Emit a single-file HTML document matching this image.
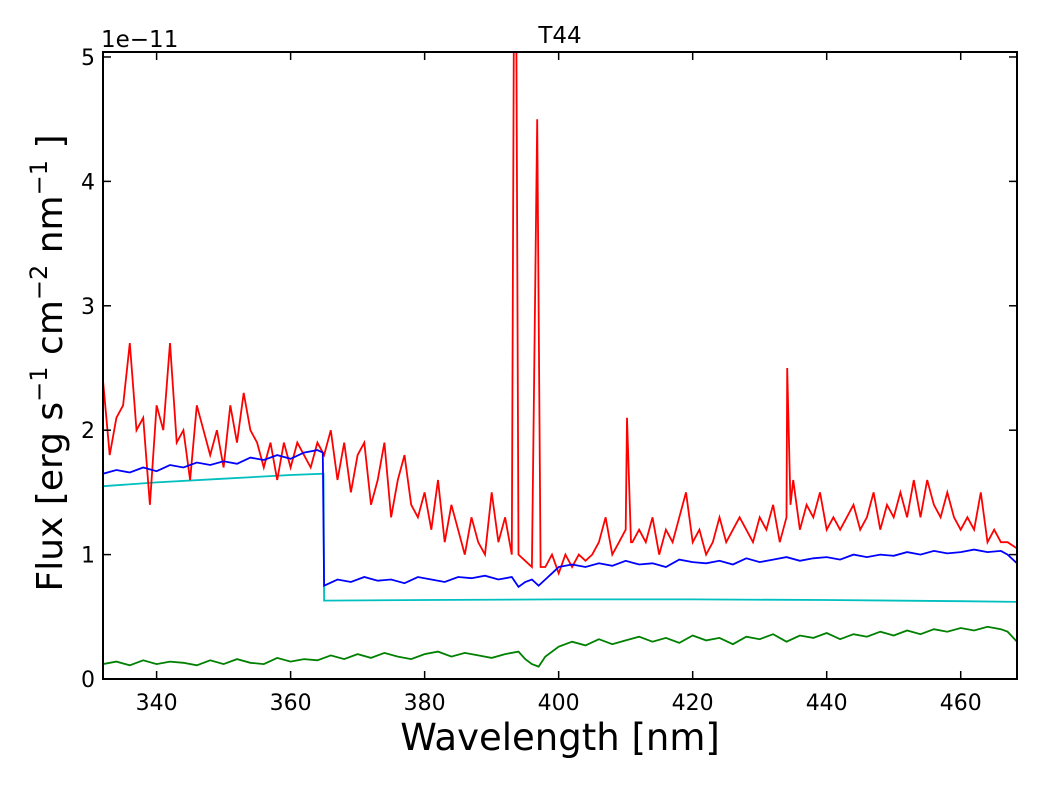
<!DOCTYPE html>
<html><head><meta charset="utf-8"><style>
body{margin:0;background:#fff;}
svg text{font-family:"DejaVu Sans","Liberation Sans",sans-serif;}
</style></head><body>
<svg id="chart" width="1040" height="780" xmlns="http://www.w3.org/2000/svg">
<rect width="1040" height="780" fill="#fff"/>
<g id="plot"></g>
<rect x="103" y="52" width="914" height="627" fill="none" stroke="#000" stroke-width="2"/>
<g id="ticks"></g>
<text x="560" y="43" font-size="23" text-anchor="middle">T44</text>
<text x="101" y="47" font-size="23">1e−11</text>
<text x="560" y="750" font-size="37" text-anchor="middle">Wavelength [nm]</text>
<text transform="translate(62,363) rotate(-90)" font-size="36" text-anchor="middle" xml:space="preserve">Flux [erg s<tspan dy="-15" font-size="24">−1</tspan><tspan dy="15"> cm</tspan><tspan dy="-15" font-size="24">−2</tspan><tspan dy="15"> nm</tspan><tspan dy="-15" font-size="24">−1</tspan><tspan dy="15"> ]</tspan></text>
</svg>
<script>
const xTicks=[340,360,380,400,420,440,460];
const yTicks=[0,1,2,3,4,5];
const redWl=[332,333,334,335,336,337,338,339,340,341,342,343,344,345,346,347,348,349,350,351,352,353,354,355,356,357,358,359,360,361,362,363,364,365,366,367,368,369,370,371,372,373,374,375,376,377,378,379,380,381,382,383,384,385,386,387,388,389,390,391,392,393,393.3,393.7,394,395,396,396.8,397.3,398,399,400,401,402,403,404,405,406,407,408,409,410,410.2,410.8,411,412,413,414,415,416,417,418,419,420,421,422,423,424,425,426,427,428,429,430,431,432,433,434,434.1,434.6,435,436,437,438,439,440,441,442,443,444,445,446,447,448,449,450,451,452,453,454,455,456,457,458,459,460,461,462,463,464,465,466,467,468.4];
const redFlux=[2.4,1.8,2.1,2.2,2.7,2.0,2.1,1.4,2.2,2.0,2.7,1.9,2.0,1.6,2.2,2.0,1.8,2.0,1.7,2.2,1.9,2.3,2.0,1.9,1.7,1.9,1.6,1.9,1.7,1.9,1.8,1.7,1.9,1.8,2.0,1.6,1.9,1.5,1.8,1.9,1.4,1.6,1.9,1.3,1.6,1.8,1.4,1.3,1.5,1.2,1.6,1.1,1.4,1.2,1.0,1.3,1.1,1.0,1.5,1.1,1.3,1.0,5.1,5.1,1.0,0.95,0.9,4.5,0.9,0.9,1.0,0.85,1.0,0.9,1.0,0.95,1.0,1.1,1.3,1.0,1.1,1.2,2.1,1.1,1.1,1.2,1.1,1.3,1.0,1.2,1.1,1.3,1.5,1.1,1.2,1.0,1.1,1.3,1.1,1.2,1.3,1.2,1.1,1.3,1.2,1.4,1.1,1.3,2.5,1.4,1.6,1.2,1.4,1.3,1.5,1.2,1.3,1.2,1.3,1.4,1.2,1.3,1.5,1.2,1.4,1.3,1.5,1.3,1.6,1.3,1.6,1.4,1.3,1.5,1.3,1.2,1.3,1.2,1.5,1.1,1.2,1.1,1.1,1.05];
const blueWl=[332,334,336,338,340,342,344,346,348,350,352,354,356,358,360,362,364,364.8,365,367,369,371,373,375,377,379,381,383,385,387,389,391,393,394,395,396,397,398,399,400,402,404,406,408,410,412,414,416,418,420,422,424,426,428,430,432,434,436,438,440,442,444,446,448,450,452,454,456,458,460,462,464,466,467,468.4];
const blueFlux=[1.65,1.68,1.66,1.70,1.67,1.72,1.70,1.74,1.72,1.75,1.73,1.78,1.76,1.80,1.77,1.82,1.84,1.82,0.75,0.80,0.78,0.82,0.79,0.80,0.77,0.82,0.80,0.78,0.82,0.81,0.83,0.80,0.82,0.74,0.78,0.80,0.75,0.80,0.85,0.90,0.92,0.90,0.93,0.91,0.95,0.92,0.93,0.90,0.96,0.94,0.93,0.95,0.92,0.97,0.94,0.96,0.98,0.95,0.97,0.98,0.96,1.00,0.98,1.00,0.99,1.02,1.00,1.03,1.01,1.02,1.04,1.02,1.03,1.0,0.93];
const cyanWl=[332,340,350,360,364.9,365,380,400,420,440,460,468.4];
const cyanFlux=[1.55,1.58,1.61,1.64,1.65,0.63,0.635,0.64,0.64,0.635,0.625,0.62];
const greenWl=[332,334,336,338,340,342,344,346,348,350,352,354,356,358,360,362,364,366,368,370,372,374,376,378,380,382,384,386,388,390,392,394,395,396,397,398,400,402,404,406,408,410,412,414,416,418,420,422,424,426,428,430,432,434,436,438,440,442,444,446,448,450,452,454,456,458,460,462,464,466,467,468.4];
const greenFlux=[0.12,0.14,0.11,0.15,0.12,0.14,0.13,0.11,0.15,0.12,0.16,0.13,0.12,0.17,0.14,0.16,0.15,0.19,0.16,0.20,0.17,0.21,0.18,0.16,0.20,0.22,0.18,0.21,0.19,0.17,0.20,0.22,0.16,0.12,0.10,0.18,0.26,0.30,0.27,0.32,0.28,0.31,0.34,0.30,0.33,0.29,0.35,0.31,0.33,0.28,0.34,0.32,0.36,0.30,0.35,0.33,0.37,0.32,0.36,0.34,0.38,0.35,0.39,0.36,0.40,0.38,0.41,0.39,0.42,0.40,0.38,0.30];
const X0=332,X1=468.4,Y1=5.04;
const L=103,R=1017,T=52,B=679;
function sx(v){return L+(v-X0)/(X1-X0)*(R-L);}
function sy(v){return B-v/Y1*(B-T);}
const NS="http://www.w3.org/2000/svg";
const plot=document.getElementById('plot');
const clip=document.createElementNS(NS,'clipPath');clip.setAttribute('id','clp');
const cr=document.createElementNS(NS,'rect');cr.setAttribute('x',L);cr.setAttribute('y',T);cr.setAttribute('width',R-L);cr.setAttribute('height',B-T);
clip.appendChild(cr);plot.appendChild(clip);
plot.setAttribute('clip-path','url(#clp)');
function line(wl,fl,color,name){
  const p=document.createElementNS(NS,'polyline');
  p.setAttribute('points',wl.map((w,i)=>sx(w).toFixed(1)+','+sy(fl[i]).toFixed(1)).join(' '));
  p.setAttribute('fill','none');p.setAttribute('stroke',color);p.setAttribute('stroke-width','1.8');
  
  
  plot.appendChild(p);
}
line(cyanWl,cyanFlux,'#00bfbf','model-continuum-line');
line(greenWl,greenFlux,'#008000','green-spectrum-line');
line(redWl,redFlux,'#ff0000','red-spectrum-line');
line(blueWl,blueFlux,'#0000ff','blue-spectrum-line');
const tg=document.getElementById('ticks');
function el(tag,attrs,txt){const e=document.createElementNS(NS,tag);for(const k in attrs)e.setAttribute(k,attrs[k]);if(txt!==undefined)e.textContent=txt;tg.appendChild(e);return e;}
xTicks.forEach(v=>{const x=sx(v);
  const a=el('line',{x1:x,x2:x,y1:B,y2:B-8,stroke:'#000','stroke-width':1.5});
  
  const b=el('line',{x1:x,x2:x,y1:T,y2:T+8,stroke:'#000','stroke-width':1.5});
  
  const t=el('text',{x:x,y:B+31,'font-size':22,'text-anchor':'middle'},String(v));
  
});
yTicks.forEach(v=>{const y=sy(v);
  const a=el('line',{x1:L,x2:L+8,y1:y,y2:y,stroke:'#000','stroke-width':1.5});
  
  const b=el('line',{x1:R,x2:R-8,y1:y,y2:y,stroke:'#000','stroke-width':1.5});
  
  const t=el('text',{x:L-8,y:y+8,'font-size':22,'text-anchor':'end'},String(v));
  
});
</script>
</body></html>
